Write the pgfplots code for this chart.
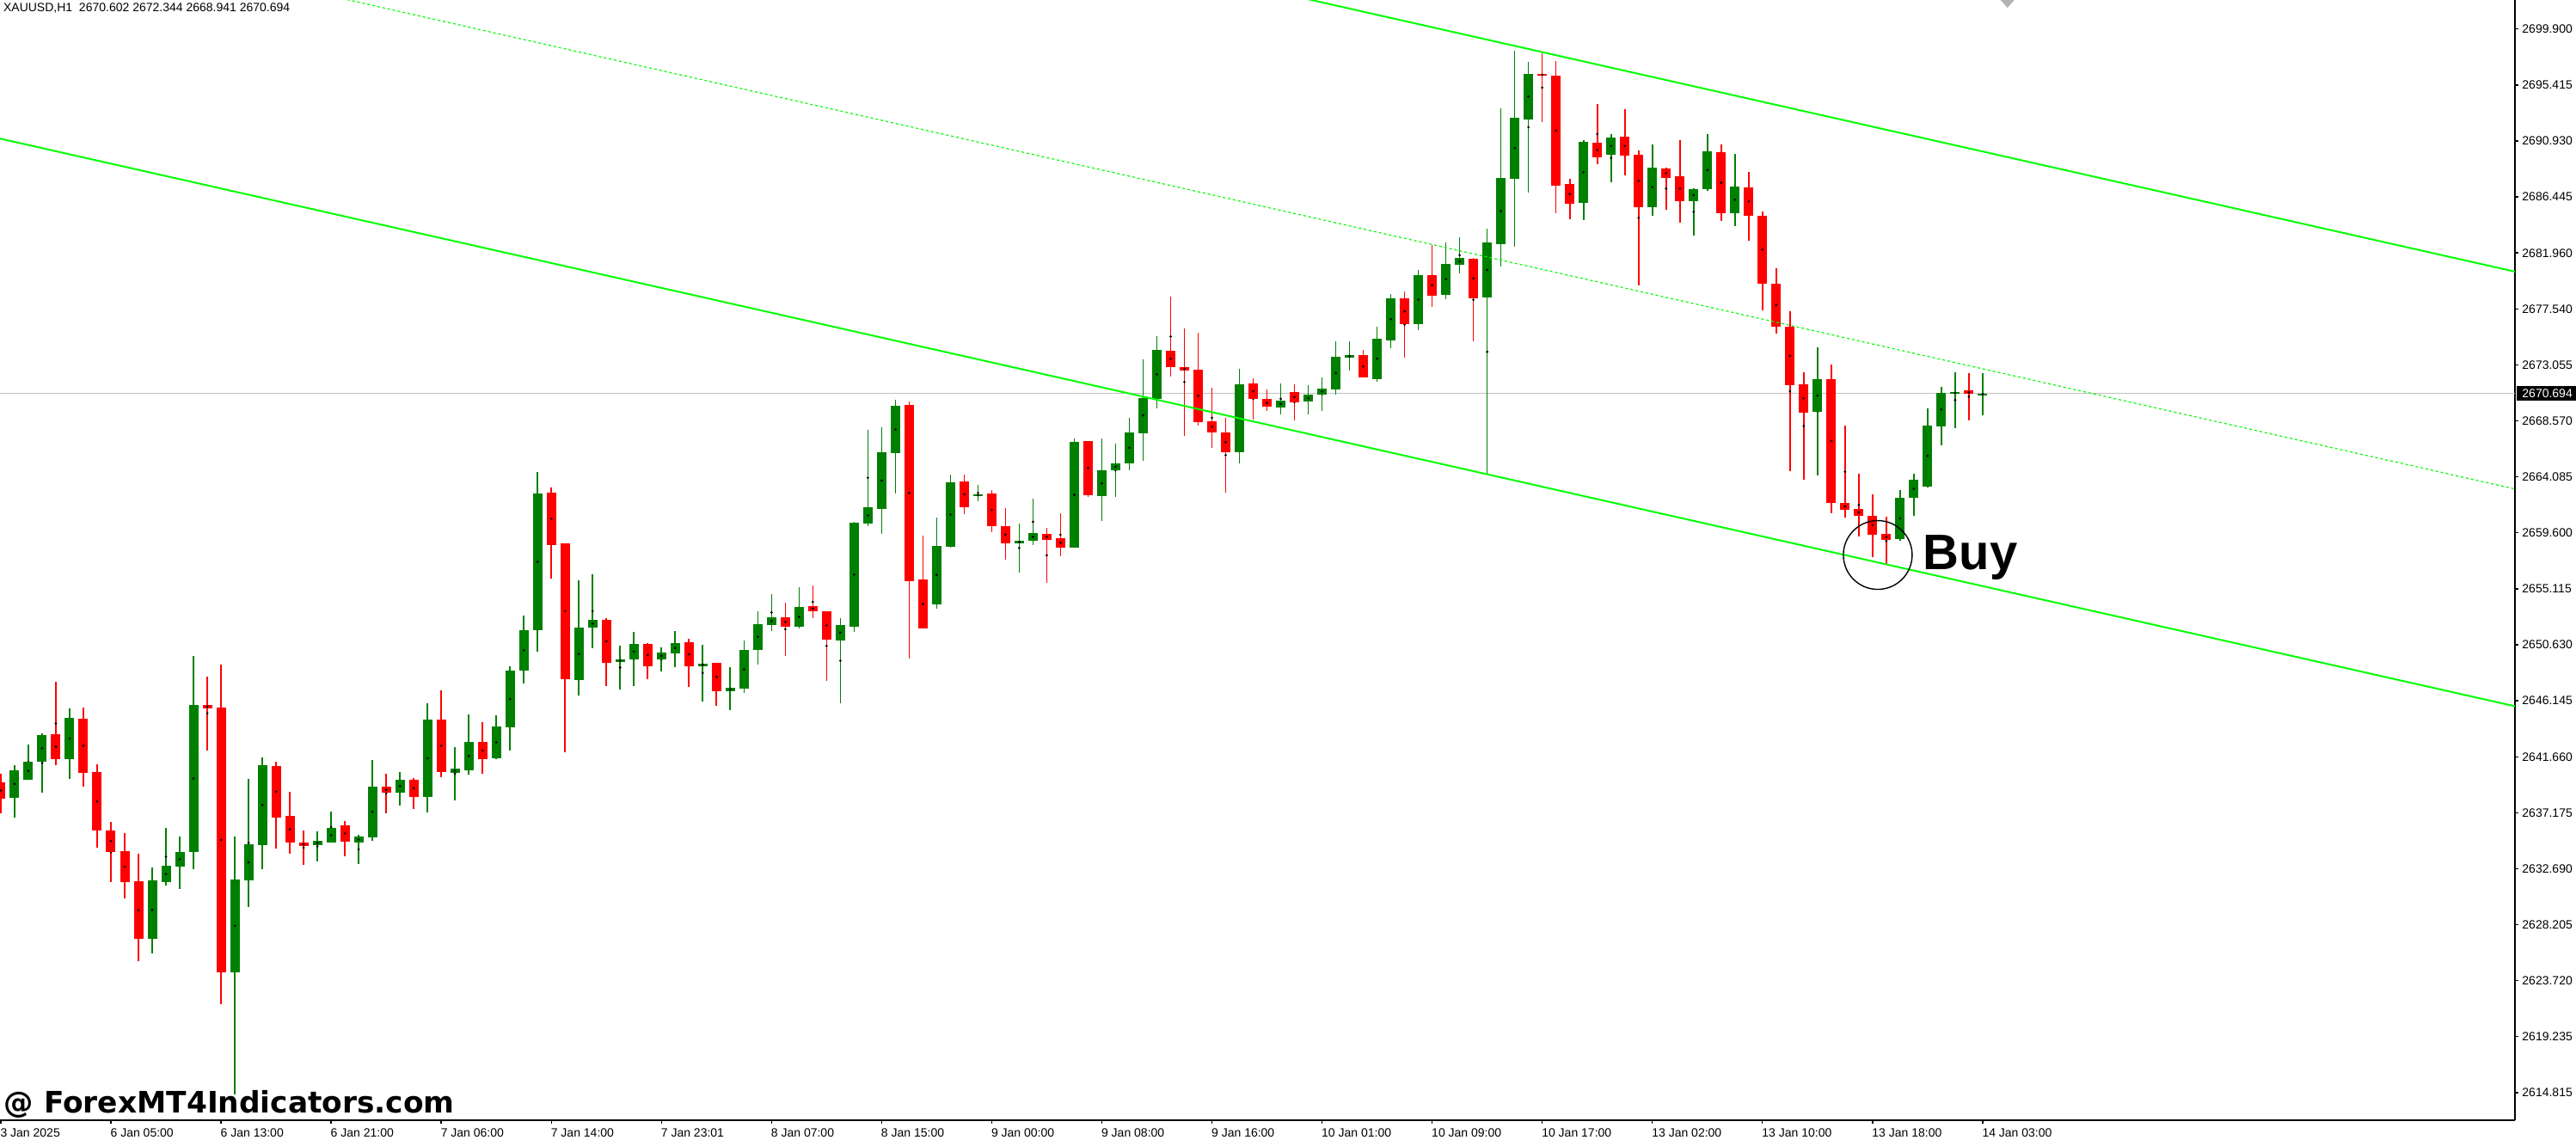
\documentclass[border=0pt]{standalone}
\usepackage{pgfplots}
\pgfplotsset{compat=1.18}
\usepackage{pgfplotstable}
\usepackage{fontspec}
\setmainfont{Liberation Sans}
\newfontfamily\tah{Liberation Sans}
\newfontfamily\wm{DejaVu Sans}
\definecolor{bull}{RGB}{0,128,0}
\definecolor{bear}{RGB}{255,0,0}
\definecolor{chan}{RGB}{0,255,0}
\definecolor{pline}{RGB}{192,192,192}

\pgfplotstableread{
k o h l c
-8 2639.53 2640.25 2637.05 2638.25
-4 2643.39 2647.60 2640.92 2641.42
-2 2644.64 2645.52 2639.21 2640.33
-1 2640.36 2641.00 2634.34 2635.67
0 2635.67 2636.36 2631.57 2633.99
1 2634.02 2635.48 2630.26 2631.57
2 2631.62 2633.83 2625.21 2627.01
7 2645.73 2648.02 2642.11 2645.49
8 2645.52 2648.98 2621.80 2624.35
12 2640.85 2641.20 2634.26 2636.74
13 2636.86 2638.79 2633.85 2634.74
14 2634.72 2635.69 2632.95 2634.47
17 2636.10 2636.44 2633.64 2634.81
20 2639.20 2640.23 2637.09 2638.74
22 2639.75 2639.89 2637.43 2638.40
24 2644.57 2646.91 2639.98 2640.39
27 2642.78 2644.37 2640.25 2641.43
32 2662.76 2663.17 2655.89 2658.58
33 2658.69 2658.69 2641.98 2647.83
36 2652.56 2652.70 2647.28 2649.14
39 2650.63 2650.70 2647.83 2648.87
42 2650.77 2651.05 2647.21 2648.87
44 2649.12 2649.12 2645.70 2646.87
49 2652.77 2653.94 2649.69 2652.03
51 2653.66 2655.32 2652.72 2653.27
52 2653.25 2653.25 2647.70 2651.00
58 2669.78 2670.06 2649.49 2655.69
59 2655.80 2659.31 2651.90 2651.90
62 2663.65 2664.20 2661.06 2661.61
64 2662.69 2662.96 2659.61 2660.09
65 2660.07 2661.52 2657.41 2658.72
68 2659.45 2659.93 2655.55 2658.99
69 2659.11 2661.10 2657.68 2658.37
71 2666.89 2666.89 2662.44 2662.57
77 2674.12 2678.46 2672.08 2672.84
78 2672.81 2675.91 2667.33 2672.56
79 2672.61 2675.57 2668.15 2668.43
80 2668.47 2671.16 2666.36 2667.59
81 2667.58 2668.75 2662.78 2666.02
83 2671.51 2671.93 2668.64 2670.27
84 2670.27 2671.03 2669.32 2669.61
86 2670.82 2671.43 2668.57 2670.01
91 2673.78 2674.18 2671.96 2671.96
94 2678.34 2678.88 2673.59 2676.23
96 2680.19 2682.61 2677.67 2678.55
99 2681.49 2681.56 2674.87 2678.36
104 2696.30 2697.96 2692.47 2696.19
105 2696.17 2697.34 2685.17 2687.37
106 2687.49 2687.90 2684.68 2685.92
108 2690.79 2693.89 2689.09 2689.64
110 2691.28 2693.48 2688.20 2689.78
111 2689.83 2690.17 2679.38 2685.65
113 2688.73 2688.80 2685.44 2687.99
114 2688.11 2690.99 2684.41 2686.13
117 2690.04 2690.66 2684.55 2685.17
119 2687.21 2688.45 2682.96 2684.96
120 2684.94 2685.28 2677.38 2679.51
121 2679.49 2680.74 2675.53 2676.07
122 2676.05 2677.28 2664.50 2671.40
123 2671.45 2672.40 2663.81 2669.19
125 2671.83 2673.01 2661.13 2661.96
126 2661.91 2668.13 2660.73 2661.41
127 2661.46 2664.28 2659.28 2660.91
128 2660.94 2662.62 2657.62 2659.40
129 2659.45 2660.82 2656.98 2659.00
135 2670.93 2672.32 2668.58 2670.66
}\bear

\pgfplotstableread{
k o h l c
-7 2638.33 2640.92 2636.73 2640.52
-6 2639.77 2642.57 2639.77 2641.18
-5 2641.21 2643.47 2638.73 2643.34
-3 2641.42 2645.47 2639.85 2644.70
3 2627.01 2632.71 2625.85 2631.67
4 2631.57 2635.88 2631.30 2632.85
5 2632.82 2635.19 2631.04 2633.97
6 2633.99 2649.68 2632.61 2645.73
9 2624.35 2635.19 2614.55 2631.76
10 2631.70 2639.82 2629.57 2634.58
11 2634.54 2641.54 2632.61 2640.92
15 2634.54 2635.62 2633.23 2634.86
16 2634.74 2637.20 2634.74 2635.89
18 2634.74 2635.34 2633.02 2635.20
19 2635.16 2641.34 2634.88 2639.20
21 2638.74 2640.37 2637.71 2639.75
23 2638.40 2645.88 2637.16 2644.57
25 2640.32 2642.37 2638.12 2640.65
26 2640.53 2644.99 2640.19 2642.78
28 2641.50 2644.92 2641.43 2644.02
29 2643.97 2648.84 2642.11 2648.50
30 2648.52 2652.91 2647.49 2651.74
31 2651.76 2664.41 2650.04 2662.69
34 2647.76 2655.73 2646.52 2651.94
35 2651.96 2656.21 2650.31 2652.56
37 2649.21 2650.50 2647.01 2649.39
38 2649.42 2651.60 2647.28 2650.63
40 2649.42 2650.36 2648.45 2649.95
41 2649.90 2651.67 2648.80 2650.70
43 2648.87 2650.56 2646.04 2649.05
45 2646.87 2648.77 2645.35 2647.12
46 2647.07 2650.91 2646.73 2650.15
47 2650.18 2653.25 2649.00 2652.22
48 2652.17 2654.63 2651.69 2652.77
50 2652.03 2655.18 2651.90 2653.60
53 2650.93 2652.70 2645.90 2652.15
54 2652.03 2660.42 2651.62 2660.35
55 2660.30 2667.79 2660.09 2661.59
56 2661.47 2667.99 2659.47 2665.99
57 2665.95 2670.20 2662.71 2669.71
60 2653.83 2660.76 2653.48 2658.49
61 2658.44 2664.20 2658.37 2663.58
63 2662.50 2663.38 2662.09 2662.62
66 2658.72 2660.28 2656.37 2658.90
67 2658.92 2662.27 2658.58 2659.52
70 2658.37 2667.10 2658.37 2666.82
72 2662.50 2667.10 2660.51 2664.55
73 2664.57 2666.68 2662.44 2665.10
74 2665.12 2668.75 2664.57 2667.58
75 2667.53 2673.43 2665.33 2670.36
76 2670.29 2675.29 2669.53 2674.19
82 2666.02 2672.68 2665.12 2671.44
85 2669.61 2671.51 2669.06 2670.13
87 2670.08 2671.36 2669.06 2670.60
88 2670.63 2671.98 2669.32 2671.10
89 2671.05 2674.87 2670.63 2673.64
90 2673.59 2674.87 2672.57 2673.78
92 2671.88 2676.06 2671.67 2675.09
93 2674.97 2678.67 2674.35 2678.34
95 2676.27 2680.59 2675.80 2680.19
97 2678.62 2682.80 2678.29 2681.09
98 2681.04 2683.22 2680.35 2681.56
100 2678.41 2683.91 2664.18 2682.80
101 2682.68 2693.57 2680.90 2687.97
102 2687.92 2698.16 2682.48 2692.79
103 2692.68 2697.27 2686.82 2696.30
107 2685.99 2691.00 2684.61 2690.86
109 2689.85 2691.48 2687.65 2691.21
112 2685.65 2690.64 2684.96 2688.80
115 2686.13 2687.14 2683.38 2687.07
116 2687.10 2691.48 2686.96 2690.10
118 2685.17 2689.90 2684.13 2687.28
124 2669.26 2674.39 2664.17 2671.83
130 2659.04 2662.98 2658.88 2662.34
131 2662.36 2664.28 2660.91 2663.76
132 2663.26 2669.50 2663.19 2668.13
133 2668.08 2671.23 2666.51 2670.76
134 2670.66 2672.40 2667.96 2670.85
136 2670.602 2672.344 2668.941 2670.694
}\bull

\newcommand{\tickfont}{\tah\fontsize{3.5}{4}\selectfont}

\pgfplotsset{
  candle/.style n args={2}{only marks, mark=*, mark size=0.1pt,
    mark options={draw=none, fill=none},
    error bars/.cd, y dir=both, y explicit, error mark=none,
    error bar style={draw=#1, solid, line width=#2}},
}

\begin{document}
\begin{tikzpicture}
\begin{axis}[
  at={(0,0)}, anchor=south west,
  scale only axis, width=731.25pt, height=325.875pt,
  xmin=-8.059, xmax=174.68, ymin=2612.44, ymax=2702.228,
  axis x line*=bottom, axis y line*=right,
  axis line style={-, black, line width=0.5pt},
  clip mode=individual,
  tick align=outside, major tick length=1pt,
  every tick/.style={black, line width=0.35pt},
  xtick={-8,0,...,136},
  xticklabels={3 Jan 2025,6 Jan 05:00,6 Jan 13:00,6 Jan 21:00,7 Jan 06:00,7 Jan 14:00,7 Jan 23:01,8 Jan 07:00,8 Jan 15:00,9 Jan 00:00,9 Jan 08:00,9 Jan 16:00,10 Jan 01:00,10 Jan 09:00,10 Jan 17:00,13 Jan 02:00,13 Jan 10:00,13 Jan 18:00,14 Jan 03:00},
  xticklabel style={font=\tickfont, anchor=north west, inner sep=0pt, yshift=-1.2pt, xshift=-0.3pt},
  ytick={2699.900,2695.415,2690.930,2686.445,2681.960,2677.475,2672.990,2668.505,2664.020,2659.535,2655.050,2650.565,2646.080,2641.595,2637.110,2632.625,2628.140,2623.655,2619.170,2614.685},
  yticklabels={2699.900,2695.415,2690.930,2686.445,2681.960,2677.540,2673.055,2668.570,2664.085,2659.600,2655.115,2650.630,2646.145,2641.660,2637.175,2632.690,2628.205,2623.720,2619.235,2614.815},
  yticklabel style={font=\tickfont, anchor=west, inner sep=0pt, xshift=0.9pt},
  /pgf/number format/assume math mode=true,
]
% current price line
\addplot[pline, line width=0.25pt] coordinates {(-8.059,2670.694) (174.68,2670.694)};

% wicks
\addplot[candle={bear}{0.4pt}]
  table[x=k, y expr={(\thisrow{h}+\thisrow{l})/2}, y error expr={(\thisrow{h}-\thisrow{l})/2}] {\bear};
\addplot[candle={bull}{0.4pt}]
  table[x=k, y expr={(\thisrow{h}+\thisrow{l})/2}, y error expr={(\thisrow{h}-\thisrow{l})/2}] {\bull};
% bodies
\addplot[candle={bear}{2.75pt}]
  table[x=k, y expr={(\thisrow{o}+\thisrow{c})/2}, y error expr={max(abs(\thisrow{o}-\thisrow{c})/2,0.05)}] {\bear};
\addplot[candle={bull}{2.75pt}]
  table[x=k, y expr={(\thisrow{o}+\thisrow{c})/2}, y error expr={max(abs(\thisrow{o}-\thisrow{c})/2,0.05)}] {\bull};

% channel
\addplot[chan, line width=0.5pt] coordinates {(-8.059,2725.94) (174.68,2680.46)};
\addplot[chan, line width=0.5pt] coordinates {(-8.059,2691.12) (174.68,2645.64)};
\addplot[chan, line width=0.3pt, dash pattern=on 0.75pt off 0.75pt] coordinates {(-8.059,2708.53) (174.68,2663.05)};

% annotations
\draw[black, line width=0.35pt] (axis cs:128.38,2657.76) circle[radius=10pt];
\node[anchor=base west, inner sep=0pt, font=\tah\bfseries\fontsize{14.5}{16}\selectfont] at (axis cs:131.63,2656.56) {Buy};
\node[anchor=base west, inner sep=0pt, font=\tickfont] at (axis cs:-7.853,2701.31) {XAUUSD,H1\ \ 2670.602 2672.344 2668.941 2670.694};
\node[anchor=base west, inner sep=0pt, font=\wm\bfseries\fontsize{8.6}{10}\selectfont] at (axis cs:-7.81,2613.09) {@ ForexMT4Indicators.com};
\node[anchor=west, fill=black, text=white, inner xsep=1.5pt, inner ysep=0pt, minimum height=4.25pt, font=\tickfont, xshift=0.4pt] at (axis cs:174.68,2670.694) {2670.694};
\fill[gray!60] (axis cs:137.3,2702.228) -- (axis cs:138.3,2702.228) -- (axis cs:137.8,2701.6) -- cycle;
\end{axis}
\pgfresetboundingbox
\path[use as bounding box] (0,-5.625pt) rectangle (749pt,325.875pt);
\end{tikzpicture}
\end{document}
